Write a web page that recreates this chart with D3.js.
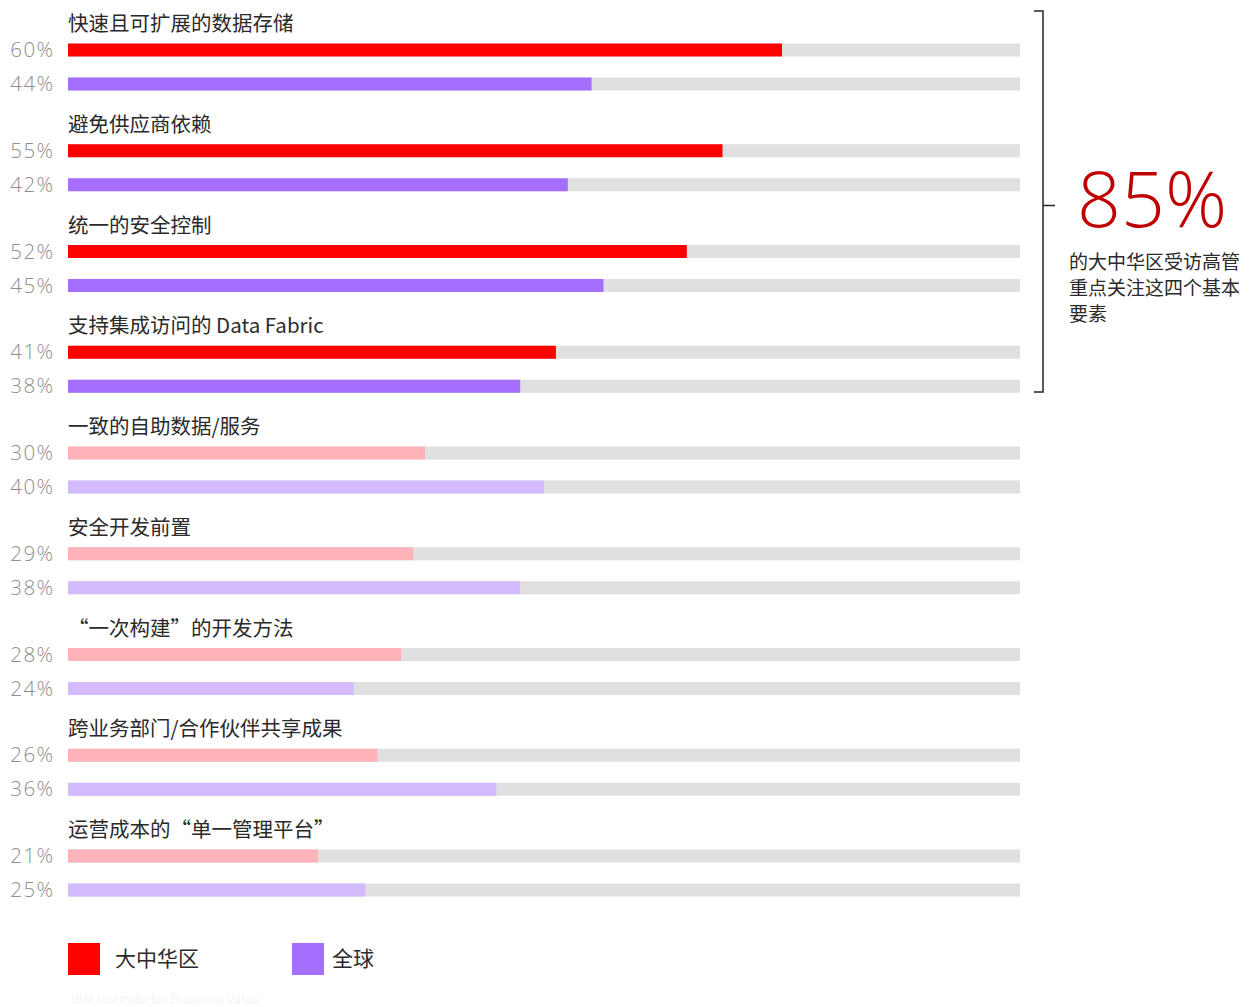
<!DOCTYPE html>
<html>
<head>
<meta charset="utf-8">
<script src="https://cdn.jsdelivr.net/npm/d3@7"></script>
<style>
  body { margin: 0; background: #fff; }
  svg { font-family: "Noto Sans CJK SC", "Noto Sans", sans-serif; }
</style>
</head>
<body>
<svg id="chart" width="1249" height="1007"></svg>
<script>
// data
const categories = [
  '快速且可扩展的数据存储',
  '避免供应商依赖',
  '统一的安全控制',
  '支持集成访问的 Data Fabric',
  '一致的自助数据/服务',
  '安全开发前置',
  '“一次构建”的开发方法',
  '跨业务部门/合作伙伴共享成果',
  '运营成本的“单一管理平台”'
];
const greaterChina = [60, 55, 52, 41, 30, 29, 28, 26, 21];
const globalVals   = [44, 42, 45, 38, 40, 38, 24, 36, 25];
const highlightCount = 4;   // first four groups are the "基本要素"
const seriesNames = ['大中华区', '全球'];

const colors = {
  red: '#ff0000', purple: '#a56eff',
  redLight: '#ffb3b8', purpleLight: '#d4bbff',
  track: '#e0e0e0'
};

const svg = d3.select('#chart');

const x = d3.scaleLinear().domain([0, 80]).range([68, 1020]);
// first bar centre of each group
const y = d3.scalePoint()
  .domain(d3.range(categories.length))
  .range([50, 856]);

const barH = 13;
const gap = 34;

const groups = svg.append('g').selectAll('g.grp')
  .data(categories.map((c, i) => ({ c, i, a: greaterChina[i], b: globalVals[i] })))
  .join('g')
  .attr('class', 'grp')
  .attr('transform', d => `translate(0,${y(d.i)})`);

// category label
groups.append('text')
  .attr('x', 68).attr('y', -26)
  .attr('dy', '0.35em')
  .attr('font-size', 20.5).attr('fill', '#2a2a2a')
  .text(d => d.c);

[0, 1].forEach(k => {
  const off = k * gap;
  groups.append('rect')
    .attr('x', x(0)).attr('y', off - barH / 2)
    .attr('width', x(80) - x(0)).attr('height', barH)
    .attr('fill', colors.track);
  groups.append('rect')
    .attr('x', x(0)).attr('y', off - barH / 2)
    .attr('width', d => x(k ? d.b : d.a) - x(0)).attr('height', barH)
    .attr('fill', d => {
      const hi = d.i < highlightCount;
      if (k === 0) return hi ? colors.red : colors.redLight;
      return hi ? colors.purple : colors.purpleLight;
    });
  groups.append('text')
    .attr('x', 54.5).attr('y', off)
    .attr('dy', '0.35em')
    .attr('text-anchor', 'end')
    .attr('font-family', '"Open Sans", "Noto Sans", sans-serif')
    .attr('font-size', 20.5).attr('font-weight', 300)
    .attr('letter-spacing', 1.4)
    .attr('fill', '#8d8d8d')
    .text(d => (k ? d.b : d.a) + '%');
});

// bracket around the top four
const bTop = 11, bBot = 392, bx = 1043;
svg.append('path')
  .attr('d', `M${bx - 9},${bTop}H${bx}V${bBot}H${bx - 9}M${bx},${(bTop + bBot) / 2 + 4}H${bx + 12}`)
  .attr('fill', 'none').attr('stroke', '#262626').attr('stroke-width', 1.5);

svg.append('text')
  .attr('x', 1077).attr('y', 227)
  .attr('font-size', 77).attr('font-weight', 300)
  .attr('font-family', '"Open Sans", "Noto Sans", sans-serif')
  .attr('fill', '#c00000')
  .text('85%');

const note = ['的大中华区受访高管', '重点关注这四个基本', '要素'];
svg.append('g').selectAll('text')
  .data(note)
  .join('text')
  .attr('x', 1069).attr('y', (d, i) => 262 + i * 26)
  .attr('dy', '0.35em')
  .attr('font-size', 19).attr('fill', '#2a2a2a')
  .text(d => d);

// legend
const legend = svg.append('g').selectAll('g')
  .data(seriesNames)
  .join('g')
  .attr('transform', (d, i) => `translate(${i ? 292 : 68},943)`);
legend.append('rect')
  .attr('width', 32).attr('height', 32)
  .attr('fill', (d, i) => i ? colors.purple : colors.red);
legend.append('text')
  .attr('x', (d, i) => i ? 40 : 47).attr('y', 16)
  .attr('dy', '0.35em')
  .attr('font-size', 21).attr('fill', '#2a2a2a')
  .text(d => d);

svg.append('text')
  .attr('x', 71).attr('y', 999)
  .attr('dy', '0.35em')
  .attr('font-size', 13).attr('fill', '#f4f4f4')
  .text('IBM Institute for Business Value');
</script>
</body>
</html>
